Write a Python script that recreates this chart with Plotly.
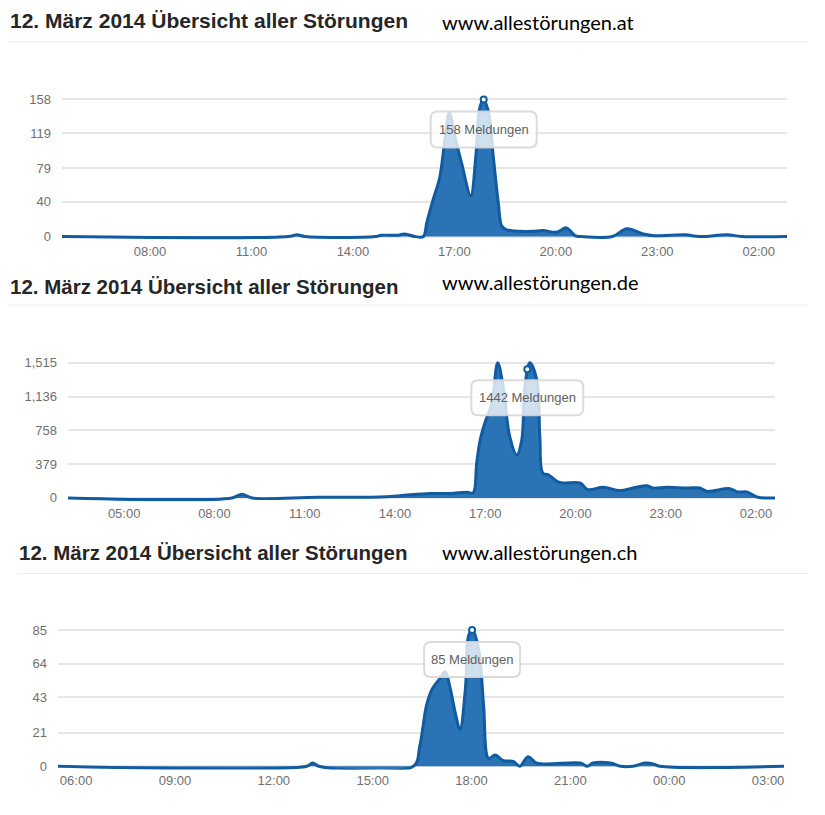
import plotly.graph_objects as go
from datetime import datetime, timedelta

W, H = 825, 815

# ---------------- data ----------------
titles = ["12. März 2014 Übersicht aller Störungen"] * 3
sites = ["www.allestörungen.at", "www.allestörungen.de", "www.allestörungen.ch"]

at_times = ["05:24", "12:05", "12:21", "12:35", "14:40", "14:50", "15:20", "15:32", "15:50", "16:05",
            "16:11", "16:22", "16:34", "16:43", "16:51", "17:01", "17:13", "17:29", "17:38", "17:44",
            "17:51", "18:00", "18:09", "18:18", "18:24", "18:32", "18:56", "19:19", "19:37", "20:01",
            "20:19", "20:34", "20:45", "21:40", "22:06", "22:35", "22:55", "23:49", "00:15", "01:04",
            "01:30", "02:50"]
at_values = [0, 0, 2, 0, 0, 1.5, 1.5, 3, 0, 0,
             16, 42, 68, 111, 143, 115, 84, 47, 92, 145,
             158, 145, 92, 38, 12, 8, 6, 6, 7, 5,
             10, 1, 0, 0, 9, 3, 1, 2, 0, 2,
             0, 0]
at_yticks = [0, 40, 79, 119, 158]
at_hover = ("17:52", 158)

de_times = ["03:08", "08:35", "08:55", "09:15", "11:25", "13:30", "14:10", "15:10", "15:50", "16:24",
            "16:36", "16:43", "16:50", "16:59", "17:13", "17:25", "17:36", "17:49", "18:03", "18:13",
            "18:19", "18:29", "18:43", "18:49", "18:55", "19:06", "19:23", "19:35", "20:09", "20:25",
            "20:55", "21:29", "21:55", "22:23", "22:34", "23:02", "23:42", "00:08", "00:22", "01:08",
            "01:24", "01:42", "02:04", "02:38"]
de_values = [0, 0, 41, 0, 8, 10, 25, 50, 50, 63,
             56, 390, 650, 835, 1058, 1515, 1244, 687, 483, 650,
             1244, 1515, 1318, 687, 278, 260, 186, 167, 167, 93,
             119, 82, 111, 137, 111, 119, 111, 111, 74, 104,
             67, 67, 8, 0]
de_yticks = [0, 379, 758, 1136, 1515]
de_hover = ("18:24", 1442)

ch_times = ["05:27", "13:00", "13:11", "13:22", "16:14", "16:26", "16:38", "16:48", "17:03", "17:12",
            "17:21", "17:30", "17:39", "17:49", "17:55", "18:02", "18:13", "18:22", "18:31", "18:43",
            "18:58", "19:16", "19:28", "19:43", "19:59", "21:18", "21:31", "21:41", "22:13", "22:31",
            "22:54", "23:16", "23:31", "23:43", "03:29"]
ch_values = [0, 0, 2, 0, 0, 13, 38, 48, 55, 59,
             49, 34, 23, 49, 82, 85, 73, 38, 5, 7,
             3.5, 3, 0, 6, 2, 2, 0, 2, 2, 0,
             0, 2, 1.5, 0, 0]
ch_yticks = [0, 21, 43, 64, 85]
ch_hover = ("18:01", 85)


def to_dt(times):
    base = datetime(2014, 3, 12)
    out, day, prev = [], 0, -1
    for t in times:
        h, m = map(int, t.split(":"))
        mins = h * 60 + m
        if mins < prev:
            day += 1
        prev = mins
        out.append(base + timedelta(days=day, minutes=mins))
    return out


def hover_dt(t, ref_times):
    h, m = map(int, t.split(":"))
    h0, m0 = map(int, ref_times[0].split(":"))
    day = 1 if h * 60 + m < h0 * 60 + m0 else 0
    return datetime(2014, 3, 12) + timedelta(days=day, minutes=h * 60 + m)


# ---------------- layout geometry ----------------
panels = [
    dict(times=at_times, values=at_values, yticks=at_yticks, hover=at_hover,
         x0=62, x1=787, zero_py=237, top_py=99, pad=(4, 8),
         tick0="2014-03-12 02:00", title_y=20, title_x=8, title_size=21,
         sep_y=41, sep_x=(8, 808), site_x=440, site_y=21, box=(53, 12, 48)),
    dict(times=de_times, values=de_values, yticks=de_yticks, hover=de_hover,
         x0=68, x1=775, zero_py=500, top_py=364, pad=(40, 85),
         tick0="2014-03-12 02:00", title_y=287, title_x=8, title_size=20.5,
         sep_y=306, sep_x=(8, 808), site_x=440, site_y=283, box=(56, 11, 46)),
    dict(times=ch_times, values=ch_values, yticks=ch_yticks, hover=ch_hover,
         x0=58, x1=784, zero_py=770, top_py=633, pad=(2, 4),
         tick0="2014-03-12 00:00", title_y=555, title_x=17, title_size=20.5,
         sep_y=576, sep_x=(17, 808), site_x=440, site_y=554, box=(48, 12, 47)),
]

LINE = "#115ba0"
FILL = "#2a74b5"
GRID = "#e6e6e6"
TICK = "#707070"

fig = go.Figure()
layout = dict(width=W, height=H, margin=dict(l=0, r=0, t=0, b=0),
              paper_bgcolor="white", plot_bgcolor="white", showlegend=False,
              hovermode=False, shapes=[], annotations=[])

for i, p in enumerate(panels):
    n = "" if i == 0 else str(i + 1)
    xd = to_dt(p["times"])
    vmax = p["yticks"][-1]
    scale = (p["zero_py"] - p["top_py"]) / vmax
    lo, hi = -p["pad"][0], vmax + p["pad"][1]
    py_bot = p["zero_py"] - lo * scale
    py_top = p["top_py"] - (hi - vmax) * scale

    fig.add_trace(go.Scatter(x=xd, y=p["values"], mode="lines", fill="tozeroy",
                             line=dict(color=LINE, width=3, shape="spline", smoothing=1.0),
                             fillcolor=FILL, xaxis="x" + n, yaxis="y" + n))
    hx = hover_dt(p["hover"][0], p["times"])
    hy = p["hover"][1]
    fig.add_trace(go.Scatter(x=[hx], y=[hy], mode="markers",
                             marker=dict(size=6, color="white", line=dict(color=LINE, width=2)),
                             xaxis="x" + n, yaxis="y" + n))

    layout["xaxis" + n] = dict(domain=[p["x0"] / W, p["x1"] / W], anchor="y" + n,
                               range=[xd[0], xd[-1]], type="date", tickformat="%H:%M",
                               tick0=p["tick0"], dtick=3 * 3600 * 1000,
                               showgrid=False, zeroline=False, showline=False, ticks="",
                               ticklabelstandoff=2,
                               tickfont=dict(family="Liberation Sans, Arial", size=13, color=TICK))
    layout["yaxis" + n] = dict(domain=[1 - py_bot / H, 1 - py_top / H], anchor="x" + n,
                               range=[lo, hi], tickvals=p["yticks"],
                               ticktext=[f"{v:,}" for v in p["yticks"]],
                               showgrid=True, gridcolor=GRID, gridwidth=2, zeroline=False,
                               showline=False, ticks="", ticklabelstandoff=10,
                               tickfont=dict(family="Liberation Sans, Arial", size=13, color=TICK))

    # title
    layout["annotations"].append(dict(text=titles[i], xref="paper", yref="paper",
                                      x=p["title_x"] / W, y=1 - p["title_y"] / H,
                                      xanchor="left", yanchor="middle", showarrow=False,
                                      font=dict(family="Liberation Sans, Arial", size=p["title_size"],
                                                color="#262626", weight="bold")))
    layout["annotations"].append(dict(text=sites[i], xref="paper", yref="paper",
                                      x=p["site_x"] / W, y=1 - p["site_y"] / H,
                                      xanchor="left", yanchor="middle", showarrow=False,
                                      font=dict(family="Lato, Open Sans", size=20, color="black")))
    layout["shapes"].append(dict(type="line", xref="paper", yref="paper",
                                 x0=p["sep_x"][0] / W, x1=p["sep_x"][1] / W,
                                 y0=1 - p["sep_y"] / H, y1=1 - p["sep_y"] / H,
                                 line=dict(color="#ececec", width=1)))

    # tooltip box (rounded) anchored to the hovered point
    hw, yt, yb = p["box"]
    r = 7
    path = (f"M {-hw + r},{-yt} L {hw - r},{-yt} Q {hw},{-yt} {hw},{-yt - r} "
            f"L {hw},{-yb + r} Q {hw},{-yb} {hw - r},{-yb} "
            f"L {-hw + r},{-yb} Q {-hw},{-yb} {-hw},{-yb + r} "
            f"L {-hw},{-yt - r} Q {-hw},{-yt} {-hw + r},{-yt} Z")
    layout["shapes"].append(dict(type="path", path=path, xref="x" + n, yref="y" + n,
                                 xsizemode="pixel", ysizemode="pixel",
                                 xanchor=hx.strftime("%Y-%m-%d %H:%M"), yanchor=hy,
                                 fillcolor="rgba(255,255,255,0.78)",
                                 line=dict(color="rgba(215,215,215,0.9)", width=2),
                                 layer="above"))
    layout["annotations"].append(dict(text=f"{hy} Meldungen", xref="x" + n, yref="y" + n,
                                      x=hx, y=hy, yshift=-(yt + yb) / 2, showarrow=False,
                                      xanchor="center", yanchor="middle",
                                      font=dict(family="Liberation Sans, Arial", size=13,
                                                color="#606060")))

fig.update_layout(**layout)
fig.write_html("out.html")
